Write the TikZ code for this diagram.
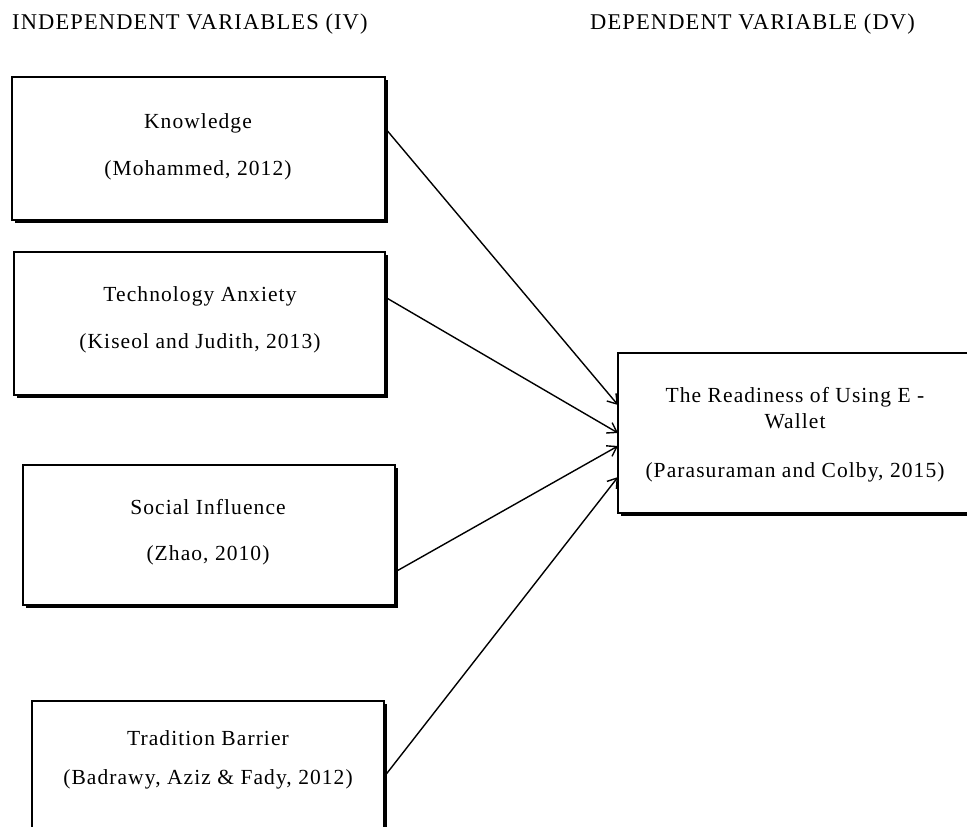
\documentclass[tikz,border=0pt]{standalone}
\usepackage{fontspec}
\setmainfont[LetterSpace=5]{Liberation Serif}
\usetikzlibrary{arrows.meta,shadows}
\begin{document}
\begin{tikzpicture}[x=1pt,y=-1pt,
  varbox/.style={draw=black, line width=2pt, fill=white, rectangle,
    inner sep=0pt, outer sep=0pt,
    drop shadow={shadow xshift=2.5pt, shadow yshift=-2.5pt, opacity=1, fill=black}},
  txt/.style={anchor=base, inner sep=0pt, font=\fontsize{21.5}{26}\selectfont},
  head/.style={anchor=base west, inner sep=0pt, font=\fontsize{22.5}{26}\selectfont},
  link/.style={line width=1.4pt, -{Straight Barb[length=9pt,width=12pt,line width=1.4pt]}}]
\useasboundingbox (0,0) rectangle (967,827);
\clip (0,0) rectangle (967,827);

% headings
\node[head] (ivh) at (12,30) {INDEPENDENT VARIABLES (IV)};
\node[head] (dvh) at (590,30) {DEPENDENT VARIABLE (DV)};

% independent variable boxes
\node[varbox, minimum width=373pt, minimum height=143pt] (kn) at (198.5,148.5) {};
\node[varbox, minimum width=371pt, minimum height=143pt] (ta) at (199.5,323.5) {};
\node[varbox, minimum width=372pt, minimum height=140pt] (si) at (209,535) {};
\node[varbox, minimum width=352pt, minimum height=160pt] (tb) at (208,781) {};

% dependent variable box
\node[varbox, minimum width=382pt, minimum height=160pt] (dv) at (809,433) {};

% box texts
\node[txt] (kn1) at (198,128) {Knowledge};
\node[txt] (kn2) at (198,175) {(Mohammed, 2012)};
\node[txt] (ta1) at (200,301) {Technology Anxiety};
\node[txt] (ta2) at (200,348) {(Kiseol and Judith, 2013)};
\node[txt] (si1) at (208,514) {Social Influence};
\node[txt] (si2) at (208,560) {(Zhao, 2010)};
\node[txt] (tb1) at (208,745) {Tradition Barrier};
\node[txt] (tb2) at (208,784) {(Badrawy, Aziz \& Fady, 2012)};
\node[txt] (dv1) at (795,402) {The Readiness of Using E -};
\node[txt] (dv2) at (795,428) {Wallet};
\node[txt] (dv3) at (795,477) {(Parasuraman and Colby, 2015)};

% relationships
\draw[link] ([yshift=-51pt]kn.north east) -- ([yshift=-52pt]dv.north west);
\draw[link] ([yshift=-45pt]ta.north east) -- ([yshift=-80pt]dv.north west);
\draw[link] ([yshift=-107pt]si.north east) -- ([yshift=-93pt]dv.north west);
\draw[link] ([yshift=-76pt]tb.north east) -- ([yshift=-124pt]dv.north west);
\end{tikzpicture}
\end{document}
